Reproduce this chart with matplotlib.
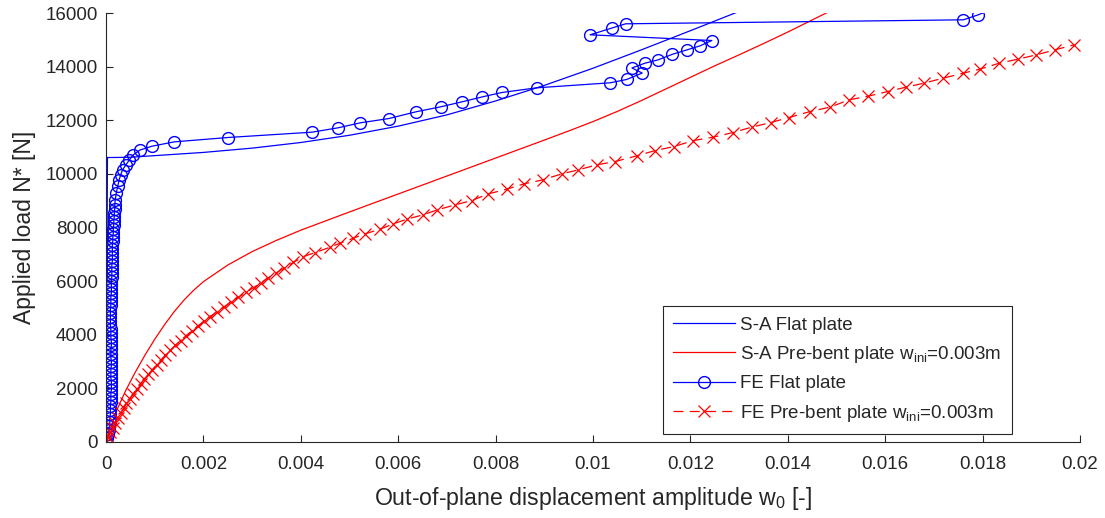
import matplotlib
matplotlib.use("Agg")
import matplotlib.pyplot as plt

plt.rcParams["font.family"] = ["Liberation Sans", "DejaVu Sans"]
plt.rcParams["mathtext.fontset"] = "custom"
plt.rcParams["mathtext.rm"] = "Liberation Sans"
plt.rcParams["mathtext.it"] = "Liberation Sans:italic"

# ---- semi-analytical (S-A) solutions ----
sa_flat_w = [0.0, 0.00003, 0.0002, 0.0005, 0.001, 0.002, 0.003, 0.004, 0.005, 0.006,
             0.007, 0.008, 0.009, 0.010, 0.011, 0.012, 0.013, 0.0131]
sa_flat_N = [0, 10610, 10612, 10620, 10680, 10800, 10960, 11170, 11440, 11780,
             12200, 12720, 13300, 13940, 14630, 15340, 16060, 16130]

sa_bent_w = [0.0, 0.0002, 0.0004, 0.0006, 0.0008, 0.001, 0.0012, 0.0014, 0.0016, 0.0018,
             0.002, 0.0025, 0.003, 0.0035, 0.004, 0.0045, 0.005, 0.006, 0.007, 0.008,
             0.009, 0.0095, 0.010, 0.0105, 0.011, 0.0115, 0.012, 0.0125, 0.013, 0.0135,
             0.014, 0.0145, 0.0149]
sa_bent_N = [0, 1100, 1900, 2600, 3240, 3830, 4370, 4860, 5290, 5660,
             5980, 6600, 7100, 7520, 7900, 8240, 8580, 9250, 9920, 10590,
             11260, 11600, 11950, 12330, 12740, 13170, 13600, 14030, 14440, 14860,
             15290, 15740, 16100]

# ---- finite element (FE) solutions ----
fe_flat_w = [0.0, 0.00003, 0.00005, 0.00006, 0.00007, 0.00008, 0.00008, 0.00009, 0.00009, 0.00009,
             0.00010, 0.00010, 0.00010, 0.00011, 0.00011, 0.00011, 0.00010, 0.00010, 0.00010, 0.00011,
             0.00011, 0.00010, 0.00010, 0.00010, 0.00011, 0.00011, 0.00010, 0.00010, 0.00010, 0.00009,
             0.00009, 0.00009, 0.00009, 0.00009, 0.00010, 0.00010, 0.00010, 0.00011, 0.00011, 0.00011,
             0.00011, 0.00012, 0.00012, 0.00012, 0.00012, 0.00013, 0.00013, 0.00013, 0.00013, 0.00013,
             0.00014, 0.00014, 0.00015, 0.00015, 0.00016, 0.00016, 0.00017, 0.00017, 0.00018, 0.00018,
             0.00019, 0.00021, 0.00024, 0.00027, 0.0003, 0.00034, 0.00041, 0.00048, 0.00056,
             0.0007, 0.000945, 0.0014, 0.0025, 0.00423, 0.00476, 0.00522, 0.00581, 0.00636,
             0.00687, 0.00731, 0.00773, 0.00813, 0.00884, 0.01035, 0.01069, 0.01101, 0.0108,
             0.01107, 0.01134, 0.01163, 0.01192, 0.0122, 0.01244, 0.00994, 0.010384, 0.010671,
             0.017604, 0.017912, 0.0184]
fe_flat_N = [0, 150, 300, 450, 600, 750, 900, 1050, 1200, 1350,
             1500, 1650, 1800, 1950, 2100, 2250, 2400, 2550, 2700, 2850,
             3000, 3150, 3300, 3450, 3600, 3750, 3900, 4050, 4200, 4350,
             4500, 4650, 4800, 4950, 5100, 5250, 5400, 5550, 5700, 5850,
             6000, 6150, 6300, 6450, 6600, 6750, 6900, 7050, 7200, 7350,
             7500, 7650, 7800, 7950, 8100, 8250, 8400, 8550, 8700, 8850,
             9030, 9280, 9530, 9780, 9960, 10150, 10340, 10520, 10710,
             10890, 11032, 11194, 11356, 11555, 11716, 11903, 12065, 12313,
             12500, 12687, 12873, 13035, 13209, 13396, 13520, 13760, 13950,
             14130, 14254, 14460, 14620, 14776, 14974, 15187, 15437, 15597,
             15746, 15933, 16300]

fe_bent_w = [0.0, 0.000045, 0.00009, 0.00014, 0.00019, 0.000245, 0.0003, 0.00036, 0.00042, 0.00049,
             0.00056, 0.00063, 0.00071, 0.00079, 0.00087, 0.00095, 0.00104, 0.00113, 0.00122, 0.00132,
             0.00142, 0.00153, 0.00164, 0.00176, 0.00188, 0.00201, 0.00214, 0.00228, 0.00242, 0.00257,
             0.00272, 0.00288, 0.00303, 0.00318, 0.00333, 0.00349, 0.00365, 0.00385,
             0.004051, 0.004292, 0.0046, 0.004805, 0.005078, 0.005318, 0.005626, 0.0059, 0.006175,
             0.006503, 0.006803, 0.007166, 0.007509, 0.00785, 0.008228, 0.008583, 0.008967, 0.009357,
             0.009698, 0.010076, 0.010452, 0.010897, 0.011273, 0.011663, 0.01206, 0.01247, 0.012869,
             0.013259, 0.013649, 0.014025, 0.014456, 0.014867, 0.015257, 0.015653, 0.016053, 0.016427,
             0.016797, 0.017193, 0.017604, 0.017947, 0.018347, 0.018733, 0.019103, 0.019487, 0.019877]
fe_bent_N = [0, 180, 360, 540, 720, 900, 1080, 1260, 1440, 1620,
             1800, 1980, 2160, 2340, 2520, 2700, 2880, 3060, 3240, 3420,
             3600, 3780, 3960, 4140, 4320, 4500, 4680, 4860, 5040, 5220,
             5400, 5580, 5760, 5940, 6120, 6300, 6480, 6700,
             6914, 7063, 7265, 7414, 7601, 7761, 7937, 8134, 8310,
             8470, 8657, 8843, 9004, 9254, 9429, 9627, 9776, 10000,
             10149, 10336, 10459, 10672, 10869, 11019, 11243, 11369, 11541,
             11743, 11914, 12101, 12325, 12489, 12761, 12899, 13071, 13235,
             13384, 13571, 13757, 13907, 14131, 14280, 14440, 14627, 14813]

x_ticks = [0, 0.002, 0.004, 0.006, 0.008, 0.01, 0.012, 0.014, 0.016, 0.018, 0.02]
x_tick_labels = ["0", "0.002", "0.004", "0.006", "0.008", "0.01", "0.012", "0.014",
                 "0.016", "0.018", "0.02"]
y_ticks = [0, 2000, 4000, 6000, 8000, 10000, 12000, 14000, 16000]

axis_grey = (0.15, 0.15, 0.15)

fig = plt.figure(figsize=(11.05, 5.18), dpi=100)
ax = fig.add_axes([106 / 1105, 76 / 518, 974 / 1105, 429 / 518])

ax.plot(sa_flat_w, sa_flat_N, color="b", lw=0.9, label="S-A Flat plate")
ax.plot(sa_bent_w, sa_bent_N, color="r", lw=0.9,
        label=r"S-A Pre-bent plate w$_{\mathrm{ini}}$=0.003m")
ax.plot(fe_flat_w, fe_flat_N, color="b", lw=0.9, marker="o", ms=8.5, mew=1.0,
        mfc="none", label="FE Flat plate")
ax.plot(fe_bent_w, fe_bent_N, color="r", lw=0.9, ls=(0, (8, 5)), marker="x", ms=8,
        mew=0.9, label=r"FE Pre-bent plate w$_{\mathrm{ini}}$=0.003m")

ax.set_xlim(0, 0.02)
ax.set_ylim(0, 16000)
ax.set_xticks(x_ticks)
ax.set_xticklabels(x_tick_labels)
ax.set_yticks(y_ticks)

for side in ("top", "right"):
    ax.spines[side].set_visible(False)
for side in ("left", "bottom"):
    ax.spines[side].set_color(axis_grey)
    ax.spines[side].set_linewidth(0.8)
ax.tick_params(direction="in", length=5, width=0.8, colors=axis_grey, labelsize=13.5)
ax.tick_params(axis="x", pad=10)
ax.tick_params(axis="y", pad=6)

ax.set_xlabel(r"Out-of-plane displacement amplitude w$_0$ [-]", fontsize=16.7,
              color=axis_grey, labelpad=9)
ax.set_ylabel("Applied load N* [N]", fontsize=16.5, color=axis_grey, labelpad=7)

leg = ax.legend(loc="lower right", bbox_to_anchor=(0.930, 0.0186), borderaxespad=0,
                fontsize=13.5, numpoints=1, handlelength=3.3, handletextpad=0.3,
                labelspacing=0.55, borderpad=0.55, fancybox=False, framealpha=1)
leg.get_frame().set_edgecolor(axis_grey)
leg.get_frame().set_linewidth(0.8)
for t in leg.get_texts():
    t.set_color(axis_grey)

fig.savefig("out.png", dpi=100)
